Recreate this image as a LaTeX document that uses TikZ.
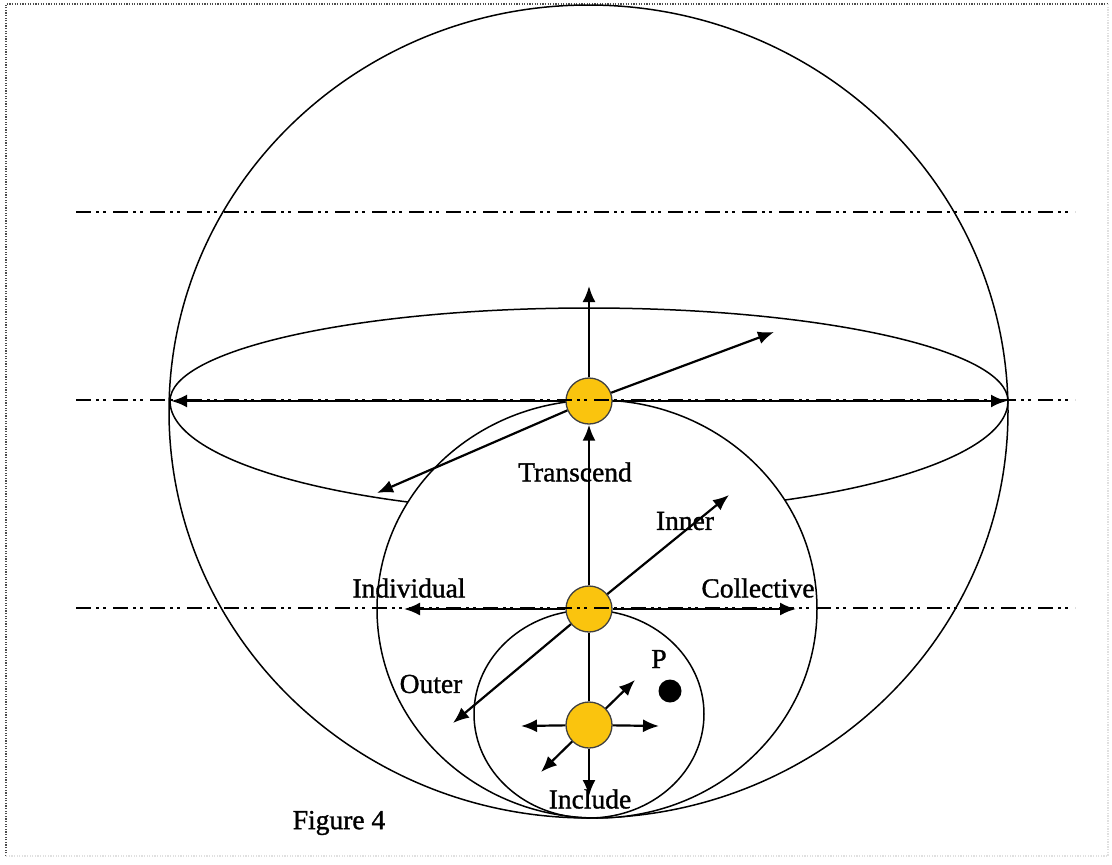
\documentclass[tikz,border=0pt]{standalone}
\usepackage{fontspec}
\setmainfont{Liberation Serif}
\newfontfamily\lblfont{Liberation Serif}[FakeBold=1.2]
\usetikzlibrary{arrows.meta}
\definecolor{hubyellow}{RGB}{250,196,14}

\begin{document}
\begin{tikzpicture}[x=1pt,y=-1pt,
  ring/.style={line width=1.5pt},
  level/.style={line width=2.3pt, dash pattern=on 15pt off 5pt on 3pt off 4pt on 3pt off 7pt},
  arr/.style={line width=2.2pt,-{Latex[length=16pt,width=13pt]}},
  hub/.style={circle,draw=black!75,line width=1.3pt,fill=hubyellow,minimum size=46pt,inner sep=0pt},
  lbl/.style={font=\lblfont\fontsize{27.5}{30}\selectfont,inner sep=0pt}]
  \useasboundingbox (0,0) rectangle (1112,865);
  \draw[black!70,line width=1.3pt,dash pattern=on 1.3pt off 1.3pt] (6,856) -- (6,4) -- (1108,4);
  \draw[black!12,line width=1.3pt,dash pattern=on 1.3pt off 1.3pt] (1108,4) -- (1108,856) -- (6,856);
  % spheres
  \draw[ring] (588.5,411.5) ellipse [x radius=419.5, y radius=406.5];
  \draw[ring] (170,401) arc[start angle=180, end angle=360, x radius=419, y radius=93];
  \draw[ring] (170,401) arc[start angle=180, end angle=0, x radius=419, y radius=112];
  \draw[ring,fill=white] (597,609) ellipse [x radius=220, y radius=209];
  \draw[ring] (589,714) ellipse [x radius=115, y radius=104];
  % horizon arrow
  \coordinate (west) at (171,401); \coordinate (east) at (1007,401);
  \draw[arr,{Latex[length=16pt,width=13pt]}-{Latex[length=16pt,width=13pt]},line width=2.8pt] (west) -- (east);
  % hubs
  \node[hub] (top) at (589,401) {};
  \node[hub] (mid) at (589,609) {};
  \node[hub] (bot) at (589,725) {};
  \node[circle,fill=black,minimum size=23pt,inner sep=0pt] (pdot) at (670,691) {};
  % levels
  \foreach \yy in {212,400,608} \draw[level] (76,\yy) -- (1075,\yy);
  % top hub
  \coordinate (up) at (589,286); \coordinate (ne) at (774,332); \coordinate (sw) at (377,493);
  \draw[arr] (top) -- (up);
  \draw[arr] (top) -- (ne);
  \draw[arr] (top) -- (sw);
  % middle hub
  \coordinate (indiv) at (404,609); \coordinate (coll) at (796,609);
  \coordinate (inner) at (729,495); \coordinate (outer) at (453,723);
  \draw[arr] (mid) -- (top);
  \draw[arr] (mid) -- (indiv);
  \draw[arr] (mid) -- (coll);
  \draw[arr] (mid) -- (inner);
  \draw[arr] (mid) -- (outer);
  \draw[line width=2.2pt] (mid) -- (bot);
  % bottom hub
  \coordinate (bl) at (521,726); \coordinate (br) at (659,726);
  \coordinate (bne) at (635,680); \coordinate (bsw) at (541,772); \coordinate (bdown) at (589,796);
  \foreach \tip in {bl,br,bne,bsw,bdown} \draw[arr] (bot) -- (\tip);
  % labels
  \node[lbl] (transcend) at (575,472) {Transcend};
  \node[lbl] (innerlbl) at (685,521) {Inner};
  \node[lbl] (indivlbl) at (409,588) {Individual};
  \node[lbl] (colllbl) at (758,588) {Collective};
  \node[lbl] (outerlbl) at (431,684) {Outer};
  \node[lbl] (include) at (590,799) {Include};
  \node[lbl] (plbl) at (659,659) {P};
  \node[lbl] (caption) at (339,823) {Figure 4};
\end{tikzpicture}
\end{document}
